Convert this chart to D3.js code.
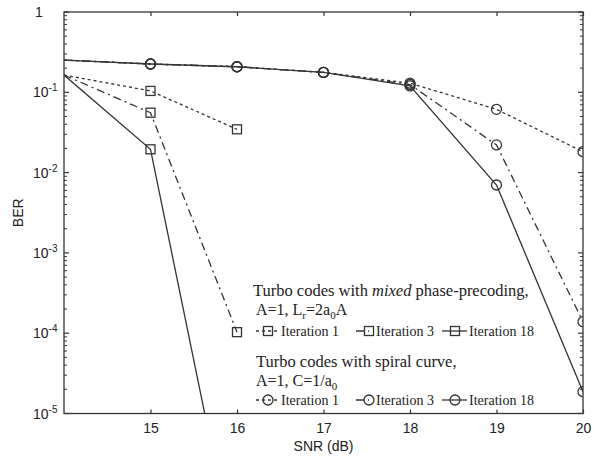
<!DOCTYPE html>
<html><head><meta charset="utf-8">
<script src="https://cdn.jsdelivr.net/npm/d3@7"></script>
<style>body{margin:0;background:#fff}svg{display:block}.serif{font-family:"Liberation Serif","Times New Roman",serif}.sans{font-family:"Liberation Sans",Arial,sans-serif}</style>
</head><body>
<svg id="c" width="597" height="462"></svg>
<script>
const snr = [14, 15, 16, 17, 18, 19, 20];
const xTicks = [15, 16, 17, 18, 19, 20];
const yTickExps = [0, -1, -2, -3, -4, -5];

// Turbo codes with mixed phase-precoding (square markers)
const sqIter1 = [0.164, 0.104, 0.0346];
const sqIter3 = [0.164, 0.0557, 1.03e-4];
const sqIter18 = [0.164, 0.0195, 1.1e-7];
// Turbo codes with spiral curve (circle markers)
const ciIter1 = [0.252, 0.225, 0.208, 0.177, 0.13, 0.0614, 0.0182];
const ciIter3 = [0.252, 0.225, 0.208, 0.177, 0.125, 0.0221, 1.39e-4];
const ciIter18 = [0.252, 0.225, 0.208, 0.177, 0.12, 0.00701, 1.87e-5];

const legendLabels = ["Iteration 1", "Iteration 3", "Iteration 18"];

const svg = d3.select("#c");
const L = 64, R = 583, T = 12, B = 413.5;
const x = d3.scaleLinear().domain([14, 20]).range([L, R]);
const y = d3.scaleLog().domain([1e-5, 1]).range([B, T]);
const ink = "#333";
const dashes = ["3,3", "8,4,2,4", null];

svg.append("defs").append("clipPath").attr("id", "pc")
  .append("rect").attr("x", L).attr("y", T).attr("width", R - L).attr("height", B - T);

svg.append("rect").attr("x", L).attr("y", T).attr("width", R - L).attr("height", B - T)
  .attr("fill", "none").attr("stroke", ink).attr("stroke-width", 1.3);

const xa = svg.append("g").attr("transform", `translate(0,${B})`)
  .call(d3.axisBottom(x).tickValues(xTicks).tickSizeInner(-4).tickSizeOuter(0).tickPadding(10).tickFormat(d3.format("d")));
const xt = svg.append("g").attr("transform", `translate(0,${T})`)
  .call(d3.axisTop(x).tickValues(xTicks).tickSizeInner(-4).tickSizeOuter(0).tickFormat(""));
[xa, xt].forEach(g => { g.select(".domain").remove(); g.selectAll("line").attr("stroke", ink).attr("stroke-width", 1.2); });
xa.selectAll("text").attr("class", "sans").attr("font-size", 14).attr("fill", "#222");

const minor = [];
for (let e = -5; e < 0; e++) for (let m = 2; m <= 9; m++) minor.push(m * Math.pow(10, e));
const majors = yTickExps.map(e => Math.pow(10, e));
function yTicks(side) {
  const sgn = side === "left" ? 1 : -1, x0 = side === "left" ? L : R;
  const g = svg.append("g");
  g.selectAll(".mj").data(majors).join("line")
    .attr("x1", x0).attr("x2", x0 + sgn * 5).attr("y1", d => y(d)).attr("y2", d => y(d))
    .attr("stroke", ink).attr("stroke-width", 1.2);
  g.selectAll(".mn").data(minor).join("line")
    .attr("x1", x0).attr("x2", x0 + sgn * 3).attr("y1", d => y(d)).attr("y2", d => y(d))
    .attr("stroke", ink).attr("stroke-width", 1);
}
yTicks("left"); yTicks("right");

const yl = svg.append("g").attr("fill", "#222");
yTickExps.forEach(e => {
  const t = yl.append("text").attr("class", "sans").attr("x", 33).attr("y", y(Math.pow(10, e)) + 5).attr("font-size", 14);
  if (e === 0) { t.attr("x", 35).text("1"); }
  else {
    t.append("tspan").text("10");
    t.append("tspan").attr("dy", -6).attr("font-size", 10).text(String(e));
  }
});

svg.append("text").attr("class", "sans").attr("transform", `translate(23,${(T + B) / 2}) rotate(-90)`)
  .attr("text-anchor", "middle").attr("font-size", 14).attr("fill", "#222").text("BER");
svg.append("text").attr("class", "sans").attr("x", (L + R) / 2).attr("y", 451).attr("text-anchor", "middle")
  .attr("font-size", 14).attr("fill", "#222").text("SNR (dB)");

const series = [
  { v: sqIter1, m: "sq", d: 0 }, { v: sqIter3, m: "sq", d: 1 }, { v: sqIter18, m: "sq", d: 2 },
  { v: ciIter1, m: "ci", d: 0 }, { v: ciIter3, m: "ci", d: 1 }, { v: ciIter18, m: "ci", d: 2 }
];
const plot = svg.append("g").attr("clip-path", "url(#pc)");
const line = d3.line().x(d => x(d[0])).y(d => y(d[1]));
function marker(g, type, cx, cy) {
  if (type === "sq") g.append("rect").attr("x", cx - 4.5).attr("y", cy - 4.5).attr("width", 9).attr("height", 9)
    .attr("fill", "none").attr("stroke", ink).attr("stroke-width", 1.3);
  else g.append("circle").attr("cx", cx).attr("cy", cy).attr("r", 5)
    .attr("fill", "none").attr("stroke", ink).attr("stroke-width", 1.3);
}
series.forEach(s => {
  const pts = s.v.map((v, i) => [snr[i], v]);
  plot.append("path").attr("d", line(pts)).attr("fill", "none").attr("stroke", ink)
    .attr("stroke-width", 1.3).attr("stroke-dasharray", dashes[s.d]);
  pts.filter(p => p[0] > 14 && p[1] >= 1e-5).forEach(p => marker(plot, s.m, x(p[0]), y(p[1])));
});

const lg = svg.append("g").attr("fill", "#222");
const t1 = lg.append("text").attr("class", "serif").attr("x", 253).attr("y", 296).attr("font-size", 16.5);
t1.append("tspan").text("Turbo codes with ");
t1.append("tspan").attr("font-style", "italic").text("mixed");
t1.append("tspan").text(" phase-precoding,");
const s1 = lg.append("text").attr("class", "serif").attr("x", 256).attr("y", 315).attr("font-size", 16);
s1.append("tspan").text("A=1, L");
s1.append("tspan").attr("dy", 4).attr("font-size", 11).text("r");
s1.append("tspan").attr("dy", -4).text("=2a");
s1.append("tspan").attr("dy", 4).attr("font-size", 11).text("0");
s1.append("tspan").attr("dy", -4).text("A");
lg.append("text").attr("class", "serif").attr("x", 256).attr("y", 367).attr("font-size", 16.5).text("Turbo codes with spiral curve,");
const s2 = lg.append("text").attr("class", "serif").attr("x", 256).attr("y", 386).attr("font-size", 16);
s2.append("tspan").text("A=1, C=1/a");
s2.append("tspan").attr("dy", 4).attr("font-size", 11).text("0");

const itemX = [
  { l0: 256, l1: 280, mx: 268, tx: 281 },
  { l0: 356, l1: 369, mx: 369, tx: 376 },
  { l0: 442, l1: 467, mx: 455, tx: 469 }
];
[["sq", 331], ["ci", 400]].forEach(([type, cy]) => {
  itemX.forEach((it, i) => {
    lg.append("line").attr("x1", it.l0).attr("x2", it.l1).attr("y1", cy).attr("y2", cy)
      .attr("stroke", ink).attr("stroke-width", 1.3).attr("stroke-dasharray", dashes[i]);
    marker(lg, type, it.mx, cy);
    lg.append("text").attr("class", "serif").attr("x", it.tx).attr("y", cy + 5).attr("font-size", 14).text(legendLabels[i]);
  });
});
</script>
</body></html>
